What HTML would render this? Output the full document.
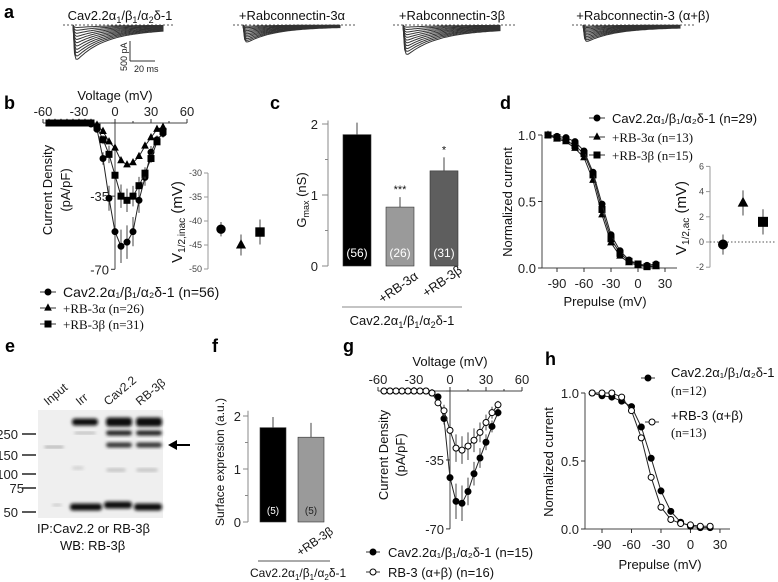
<!DOCTYPE html>
<html><head><meta charset="utf-8"><style>
body{margin:0;background:#fff}
svg{display:block;font-family:"Liberation Sans",sans-serif}
.t{font-size:13px;fill:#111}
.lab{font-size:18px;font-weight:bold;fill:#000}
</style></head><body>
<svg id="fig" width="778" height="582" viewBox="0 0 778 582" xmlns="http://www.w3.org/2000/svg">
<g id="static">
<text class="lab" x="4" y="18">a</text>
<text class="lab" x="4" y="109">b</text>
<text class="lab" x="270" y="109">c</text>
<text class="lab" x="500" y="109">d</text>
<text class="lab" x="5" y="352">e</text>
<text class="lab" x="212" y="352">f</text>
<text class="lab" x="343" y="352">g</text>
<text class="lab" x="545" y="365">h</text>

<text class="t" x="120" y="20" text-anchor="middle">Cav2.2α<tspan font-size="9" dy="3">1</tspan><tspan dy="-3">/β</tspan><tspan font-size="9" dy="3">1</tspan><tspan dy="-3">/α</tspan><tspan font-size="9" dy="3">2</tspan><tspan dy="-3">δ-1</tspan></text>
<text class="t" x="292" y="20" text-anchor="middle">+Rabconnectin-3α</text>
<text class="t" x="452" y="20" text-anchor="middle">+Rabconnectin-3β</text>
<text class="t" x="643" y="20" text-anchor="middle">+Rabconnectin-3 (α+β)</text>
<line x1="130" y1="41" x2="130" y2="61" stroke="#333"/>
<line x1="130" y1="61" x2="155" y2="61" stroke="#333"/>
<text x="127" y="71" font-size="9" transform="rotate(-90 127 71)" fill="#222">500 pA</text>
<text x="134" y="72" font-size="9" fill="#222">20 ms</text>

<text class="t" x="115" y="100" text-anchor="middle">Voltage (mV)</text>
<text class="t" x="52" y="190" text-anchor="middle" transform="rotate(-90 52 190)">Current Density</text>
<text class="t" x="70" y="190" text-anchor="middle" transform="rotate(-90 70 190)">(pA/pF)</text>
<text x="182" y="222" font-size="15" text-anchor="middle" transform="rotate(-90 182 222)" fill="#111">V<tspan font-size="10" dy="3">1/2,inac</tspan><tspan dy="-3"> (mV)</tspan></text>

<text class="t" x="306" y="200" text-anchor="middle" transform="rotate(-90 306 200)">G<tspan font-size="9" dy="3">max</tspan><tspan dy="-3"> (nS)</tspan></text>
<line x1="342" y1="307" x2="462" y2="307" stroke="#888"/>
<text class="t" x="402" y="325" text-anchor="middle">Cav2.2α<tspan font-size="9" dy="3">1</tspan><tspan dy="-3">/β</tspan><tspan font-size="9" dy="3">1</tspan><tspan dy="-3">/α</tspan><tspan font-size="9" dy="3">2</tspan><tspan dy="-3">δ-1</tspan></text>
<text class="t" x="419" y="278" text-anchor="end" transform="rotate(-35 419 278)">+RB-3α</text>
<text class="t" x="463" y="272" text-anchor="end" transform="rotate(-35 463 272)">+RB-3β</text>

<text class="t" x="512" y="202" text-anchor="middle" transform="rotate(-90 512 202)">Normalized current</text>
<text class="t" x="605" y="306" text-anchor="middle">Prepulse (mV)</text>
<text x="686" y="218" font-size="15" text-anchor="middle" transform="rotate(-90 686 218)" fill="#111">V<tspan font-size="10" dy="3">1/2,ac</tspan><tspan dy="-3"> (mV)</tspan></text>

<text class="t" x="37" y="533">IP:Cav2.2 or RB-3β</text>
<text class="t" x="60" y="550">WB: RB-3β</text>

<text font-size="12" fill="#111" x="224" y="462" text-anchor="middle" transform="rotate(-90 224 462)">Surface expresion (a.u.)</text>
<line x1="258" y1="561" x2="330" y2="561" stroke="#555"/>
<text font-size="12" fill="#111" x="250" y="577">Cav2.2α<tspan font-size="8" dy="3">1</tspan><tspan dy="-3">/β</tspan><tspan font-size="8" dy="3">1</tspan><tspan dy="-3">/α</tspan><tspan font-size="8" dy="3">2</tspan><tspan dy="-3">δ-1</tspan></text>
<text font-size="12" fill="#111" x="334" y="533" text-anchor="end" transform="rotate(-35 334 533)">+RB-3β</text>

<text class="t" x="450" y="366" text-anchor="middle">Voltage (mV)</text>
<text class="t" x="388" y="455" text-anchor="middle" transform="rotate(-90 388 455)">Current Density</text>
<text class="t" x="405" y="455" text-anchor="middle" transform="rotate(-90 405 455)">(pA/pF)</text>

<text class="t" x="553" y="462" text-anchor="middle" transform="rotate(-90 553 462)">Normalized current</text>
<text class="t" x="660" y="569" text-anchor="middle">Prepulse (mV)</text>
</g>
<g id="dyn"></g>
</svg>
<script>
const bVolt=[-55,-50,-45,-40,-35,-30,-25,-20,-15,-10,-5,0,5,10,15,20,25,30,35,40];
const bCtrl=[0,0,0,0,0,0,0,-0.5,-3,-17,-36,-52,-59,-57,-52,-37,-26,-14,-8,-5];
const bCtrlErr=[0,0,0,0,0,0,0,0.5,1,3,6,8,8,8,7,6,4,3,2,2];
const bRBa=[0,0,0,0,0,0,0,0,-1,-4,-9,-12,-18,-20,-19,-16,-11,-7,-3,-2];
const bRBb=[0,0,0,0,0,0,0,0,-2,-8,-15,-25,-35,-37,-35,-30,-24,-17,-9,-4];
const bTicks=[-60,-30,0,30,60];
const bYTicks=[0,-35,-70];
const inacVals=[-41.7,-45.0,-42.3];
const inacErr=[1.5,2.2,2.6];
const inacTicks=[-30,-35,-40,-45,-50];
const cVals=[1.85,0.83,1.34];
const cErr=[0.17,0.14,0.19];
const cN=["(56)","(26)","(31)"];
const cStars=["","***","*"];
const cTicks=[0,0.5,1,1.5,2];
const dVolt=[-100,-90,-80,-70,-60,-50,-40,-30,-20,-10,0,10,20];
const dCtrl=[1.0,0.99,0.98,0.95,0.88,0.72,0.48,0.25,0.13,0.06,0.03,0.02,0.03];
const dRBa=[1.0,0.97,0.95,0.90,0.83,0.66,0.40,0.19,0.09,0.04,0.02,0.01,0.01];
const dRBb=[1.0,0.98,0.96,0.92,0.86,0.70,0.44,0.22,0.11,0.05,0.03,0.01,0.02];
const dXTicks=[-90,-60,-30,0,30];
const dYTicks=[0,0.5,1.0];
const acVals=[-0.2,3.1,1.6];
const acErr=[0.8,1.0,1.0];
const acTicks=[-2,0,2,4,6];
const fVals=[1.78,1.6];
const fErr=[0.2,0.27];
const fTicks=[0,0.5,1,1.5,2];
const gVolt=[-55,-50,-45,-40,-35,-30,-25,-20,-15,-10,-5,0,5,10,15,20,25,30,35,40];
const gCtrl=[0,0,0,0,0,0,0,0,-1,-3,-14,-44,-56,-57,-51,-42,-34,-26,-18,-11];
const gCtrlErr=[0,0,0,0,0,0,0,0,0.5,1,3,8,9,9,7,6,5,4,3,2];
const gRB=[0,0,0,0,0,0,0,0,-1,-6,-10,-20,-29,-30,-28,-25,-21,-16,-11,-7];
const gRBErr=[0,0,0,0,0,0,0,0,0.5,1,3,6,7,7,7,6,5,4,3,2];
const hVolt=[-100,-90,-80,-70,-60,-50,-40,-30,-20,-10,0,10,20];
const hCtrl=[1.0,0.98,0.97,0.94,0.90,0.75,0.52,0.28,0.13,0.05,0.02,0.01,0.01];
const hRB=[1.0,1.0,1.0,0.97,0.87,0.67,0.38,0.16,0.07,0.04,0.03,0.02,0.02];
const hXTicks=[-90,-60,-30,0,30];
const hYTicks=[0,0.5,1.0];

const NS="http://www.w3.org/2000/svg";
const root=document.getElementById('dyn');
function mk(tag,attrs,parent){const e=document.createElementNS(NS,tag);for(const k in attrs)e.setAttribute(k,attrs[k]);(parent||root).appendChild(e);return e;}
function ln(x1,y1,x2,y2,name,c,w,dash){const e=mk('line',{x1,y1,x2,y2,stroke:c||'#333','stroke-width':w||1});if(dash)e.setAttribute('stroke-dasharray',dash);


return e;}
function tx(x,y,s,name,anchor,size,fill){const e=mk('text',{x,y,'font-size':size||13,fill:fill||'#222','text-anchor':anchor||'start'});e.textContent=s;


return e;}
function marker(type,x,y,filled,name,sz){sz=sz||3;let e;
if(type==='c')e=mk('circle',{cx:x,cy:y,r:sz});
else if(type==='t')e=mk('polygon',{points:`${x},${y-sz-0.6} ${x-sz},${y+sz*0.7} ${x+sz},${y+sz*0.7}`});
else e=mk('rect',{x:x-sz,y:y-sz,width:sz*2,height:sz*2});
e.setAttribute('fill',filled?'#000':'#fff');e.setAttribute('stroke','#000');e.setAttribute('stroke-width',1);


return e;}
function poly(pts,name,c){const e=mk('polyline',{points:pts.map(p=>p.join(',')).join(' '),fill:'none',stroke:c||'#222','stroke-width':1});


return e;}

const groups=[{x0:73,x1:163,d0:63,d1:175,y0:25,peak:40,tau:0.3,res:0.18},{x0:243,x1:340,d0:233,d1:355,y0:25,peak:20,tau:0.28,res:0.15},{x0:403,x1:500,d0:393,d1:515,y0:25,peak:34,tau:0.3,res:0.2},{x0:583,x1:680,d0:572,d1:695,y0:25,peak:19,tau:0.28,res:0.2}];
groups.forEach((g,gi)=>{
 ln(g.d0,g.y0,g.d1,g.y0,'baseline-dashed-'+gi,'#555',1,'2,2');
 for(let k=1;k<=11;k++){const a=g.peak*Math.pow(k/11,1.1);const pts=[];
  for(let i=0;i<=60;i++){const t=i/60;const x=g.x0+t*(g.x1-g.x0);
   const y=g.y0+a*(1-Math.exp(-t/0.012))*((1-g.res)*Math.exp(-t/g.tau)+g.res*(1-t*0.3));pts.push([x.toFixed(1),y.toFixed(1)]);}
  pts.push([g.x1,g.y0]);
  poly(pts,'current-trace','#333');}
});

const xB=v=>115+v*1.2, yB=v=>123-v*2.09;
ln(xB(-60),123,xB(60),123,'b-x-axis','#444');
bTicks.forEach(t=>{ln(xB(t),123,xB(t),119,'b-x-tick');tx(xB(t),116,String(t),'b-x-tick-label','middle');});
[-45,-15,15,45].forEach(t=>ln(xB(t),123,xB(t),121,'b-x-minor-tick'));
ln(115,123,115,yB(-70),'b-y-axis','#444');
bYTicks.forEach(t=>{ln(115,yB(t),111,yB(t),'b-y-tick');if(t!==0)tx(109,yB(t)+5,String(t),'b-y-tick-label','end');});
function series(volt,vals,err,type,filled,xf,yf,name){
 poly(volt.map((v,i)=>[xf(v),yf(vals[i])]),name+'-line');
 if(err)volt.forEach((v,i)=>{if(err[i]>0.5)ln(xf(v),yf(vals[i]-err[i]),xf(v),yf(vals[i]+err[i]),name+'-error','#444');});
 volt.forEach((v,i)=>marker(type,xf(v),yf(vals[i]),filled,name+'-point'));
}
series(bVolt,bCtrl,bCtrlErr,'c',true,xB,yB,'b-control');
series(bVolt,bRBa,null,'t',true,xB,yB,'b-rb3a');
series(bVolt,bRBb,bCtrlErr.map(e=>e*0.7),'s',true,xB,yB,'b-rb3b');
const yI=v=>173+(-30-v)*4.8;
ln(208,173,208,269,'b-inset-y-axis','#999');
inacTicks.forEach(t=>{ln(208,yI(t),204,yI(t),'b-inset-tick','#999');tx(202,yI(t)+3,String(t),'b-inset-tick-label','end',9,'#444');});
const inacType=['c','t','s'];const inacX=[221,241,260];
inacVals.forEach((v,i)=>{ln(inacX[i],yI(v-inacErr[i]),inacX[i],yI(v+inacErr[i]),'b-inset-error','#444');marker(inacType[i],inacX[i],yI(v),true,'b-inset-point',4.2);});
const bLeg=[['c','Cav2.2α₁/β₁/α₂δ-1 (n=56)'],['t','+RB-3α (n=26)'],['s','+RB-3β (n=31)']];
[292,308,324].forEach((y,i)=>{ln(40,y,56,y,'b-legend-line');marker(bLeg[i][0],48,y,true,'b-legend-marker',3);const t=tx(63,y+5,bLeg[i][1],'b-legend-entry','start',i===0?14:13,'#111');if(i>0)t.setAttribute('font-family','Liberation Serif');});

const yC=v=>266-v*71;
ln(328,yC(0),328,yC(2.05),'c-y-axis','#888');
cTicks.forEach(t=>{ln(328,yC(t),t%1===0?322:325,yC(t),'c-y-tick','#888');if(t%1===0)tx(318,yC(t)+5,String(t),'c-y-tick-label','end');});
const cX=[343,386,430],cW=28,cCol=['#000','#9a9a9a','#5e5e5e'];
cVals.forEach((v,i)=>{const r=mk('rect',{x:cX[i],y:yC(v),width:cW,height:yC(0)-yC(v),fill:cCol[i],stroke:'#333','stroke-width':0.6});


 ln(cX[i]+cW/2,yC(v),cX[i]+cW/2,yC(v+cErr[i]),'c-error','#444');
 tx(cX[i]+cW/2,257,cN[i],'c-bar-n','middle',12,'#fff');
 if(cStars[i])tx(cX[i]+cW/2,yC(v+cErr[i])-4,cStars[i],'c-significance','middle',11,'#111');});

const xD=v=>557+(v+90)*0.9, yD=p=>268-p*133;
ln(542,yD(0),542,yD(1.0),'d-y-axis','#444');
ln(542,268,677,268,'d-x-axis','#444');
dYTicks.forEach(t=>{ln(542,yD(t),538,yD(t),'d-y-tick');tx(536,yD(t)+5,t.toFixed(1),'d-y-tick-label','end');});
dXTicks.forEach(t=>{ln(xD(t),268,xD(t),272,'d-x-tick');tx(xD(t),288,String(t),'d-x-tick-label','middle');});
series(dVolt,dRBa,null,'t',true,xD,yD,'d-rb3a');
series(dVolt,dRBb,null,'s',true,xD,yD,'d-rb3b');
series(dVolt,dCtrl,null,'c',true,xD,yD,'d-control');
const dLeg=[['c','Cav2.2α₁/β₁/α₂δ-1 (n=29)'],['t','+RB-3α (n=13)'],['s','+RB-3β (n=15)']];
[118,137,155].forEach((y,i)=>{ln(589,y,605,y,'d-legend-line');marker(dLeg[i][0],597,y,true,'d-legend-marker',3);const t=tx(612,y+5,dLeg[i][1],'d-legend-entry','start',13,'#111');if(i>0)t.setAttribute('font-family','Liberation Serif');});
const yA=v=>242-v*12.6;
ln(710,yA(-2),710,yA(6),'d-inset-y-axis','#999');
acTicks.forEach(t=>{ln(710,yA(t),706,yA(t),'d-inset-tick','#999');tx(704,yA(t)+3,String(t),'d-inset-tick-label','end',9,'#444');});
ln(710,yA(0),776,yA(0),'d-inset-zero-line','#555',1,'1.5,2');
const acX=[723,743,763];
acVals.forEach((v,i)=>{ln(acX[i],yA(v-acErr[i]),acX[i],yA(v+acErr[i]),'d-inset-error','#444');marker(inacType[i],acX[i],yA(v),true,'d-inset-point',4.5);});

const defs=mk('defs',{});const flt=mk('filter',{id:'bl',x:'-20%',y:'-50%',width:'140%',height:'200%'},defs);mk('feGaussianBlur',{stdDeviation:'1.6'},flt);
const bg=mk('rect',{x:38,y:410,width:125,height:108,fill:'#efefef'});


const bands=[[44,447,20,2,'#999'],[52,505,10,2,'#bbb'],[72,422,26,7,'#111'],[74,433,22,2,'#aaa'],[72,468,12,3,'#ccc'],[70,507,32,7,'#111'],[106,422,26,9,'#111'],[106,433,26,5,'#222'],[106,445,26,5,'#333'],[106,470,20,3,'#bbb'],[104,505,28,7,'#111'],[136,422,26,9,'#111'],[136,433,26,5,'#222'],[136,445,26,5,'#333'],[136,470,22,3,'#bbb'],[134,507,28,7,'#111']];
bands.forEach(b=>{const r=mk('rect',{x:b[0],y:b[1]-b[3]/2,width:b[2],height:b[3],rx:3,fill:b[4],filter:'url(#bl)'});

});
const eMarks=[['250',434],['150',455],['100',474],['75',488],['50',512]];
eMarks.forEach(m=>{ln(22,m[1],36,m[1],'e-marker-tick','#222',1.5);tx(m[0]==='75'?24:18,m[1]+5,m[0],'e-marker-label','end',13,'#222');});
[['Input',48],['Irr',80],['Cav2.2',108],['RB-3β',140]].forEach(l=>{const t=tx(l[1],406,l[0],'e-lane-label','start',12,'#222');t.setAttribute('transform',`rotate(-40 ${l[1]} 406)`);});
ln(174,445,190,445,'e-arrow','#000',2);
const ah=mk('polygon',{points:'168,445 177,440 177,450',fill:'#000'});



const yF=v=>522-v*53;
ln(248,yF(0),248,yF(2.1),'f-y-axis','#888');
fTicks.forEach(t=>{ln(248,yF(t),t%1===0?243:245,yF(t),'f-y-tick','#888');if(t%1===0)tx(241,yF(t)+5,String(t),'f-y-tick-label','end');});
const fX=[260,298],fCol=['#000','#9a9a9a'];
fVals.forEach((v,i)=>{const r=mk('rect',{x:fX[i],y:yF(v),width:26,height:yF(0)-yF(v),fill:fCol[i],stroke:'#333','stroke-width':0.6});


 ln(fX[i]+13,yF(v),fX[i]+13,yF(v+fErr[i]),'f-error','#444');
 tx(fX[i]+13,514,'(5)','f-bar-n','middle',10,i===0?'#fff':'#222');});

const xG=v=>450+v*1.2, yG=v=>391-v*1.97;
ln(xG(-60),391,xG(60),391,'g-x-axis','#444');
bTicks.forEach(t=>{ln(xG(t),391,xG(t),387,'g-x-tick');tx(xG(t),384,String(t),'g-x-tick-label','middle');});
[-45,-15,15,45].forEach(t=>ln(xG(t),391,xG(t),389,'g-x-minor-tick'));
ln(450,391,450,yG(-70),'g-y-axis','#444');
bYTicks.forEach(t=>{ln(450,yG(t),446,yG(t),'g-y-tick');if(t!==0)tx(444,yG(t)+5,String(t),'g-y-tick-label','end');});
series(gVolt,gCtrl,gCtrlErr,'c',true,xG,yG,'g-control');
series(gVolt,gRB,gRBErr,'c',false,xG,yG,'g-rb3ab');
ln(366,552,380,552,'g-legend-line');marker('c',373,552,true,'g-legend-marker');
tx(388,557,'Cav2.2α₁/β₁/α₂δ-1 (n=15)','g-legend-entry','start',13,'#111');
ln(366,572,380,572,'g-legend-line');marker('c',373,572,false,'g-legend-marker');
tx(388,577,'RB-3 (α+β) (n=16)','g-legend-entry','start',13,'#111');

const xH=v=>602+(v+90)*0.983, yH=p=>529-p*136;
ln(585,yH(0),585,yH(1.0),'h-y-axis','#444');
ln(585,529,730,529,'h-x-axis','#444');
hYTicks.forEach(t=>{ln(585,yH(t),581,yH(t),'h-y-tick');tx(579,yH(t)+5,t.toFixed(1),'h-y-tick-label','end');});
hXTicks.forEach(t=>{ln(xH(t),529,xH(t),533,'h-x-tick');tx(xH(t),549,String(t),'h-x-tick-label','middle');});
series(hVolt,hCtrl,null,'c',true,xH,yH,'h-control');
series(hVolt,hRB,null,'c',false,xH,yH,'h-rb3ab');
ln(641,378,655,378,'h-legend-line');marker('c',648,378,true,'h-legend-marker');
tx(671,377,'Cav2.2α₁/β₁/α₂δ-1','h-legend-entry','start',13,'#111');
const t1=tx(671,395,'(n=12)','h-legend-entry','start',13,'#111');t1.setAttribute('font-family','Liberation Serif');
ln(645,422,659,422,'h-legend-line');marker('c',652,422,false,'h-legend-marker');
tx(671,420,'+RB-3 (α+β)','h-legend-entry','start',13,'#111');
const t2=tx(671,437,'(n=13)','h-legend-entry','start',13,'#111');t2.setAttribute('font-family','Liberation Serif');
</script>
</body></html>
